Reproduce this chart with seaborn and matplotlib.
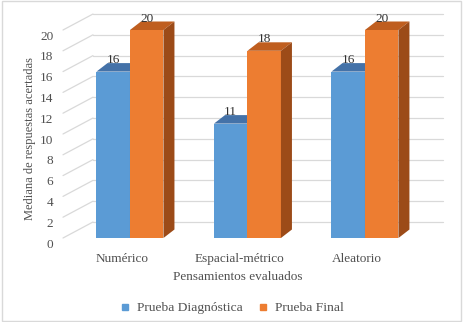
import numpy as np
import pandas as pd
import matplotlib
matplotlib.use("Agg")
import matplotlib.pyplot as plt
import matplotlib.transforms as mtransforms
from matplotlib.patches import Polygon, Rectangle
from matplotlib.lines import Line2D
import seaborn as sns

# datos
categorias = ["Numérico", "Espacial-métrico", "Aleatorio"]
series = ["Prueba Diagnóstica", "Prueba Final"]
diagnostica = [16, 11, 16]
final = [20, 18, 20]
yticks = [0, 2, 4, 6, 8, 10, 12, 14, 16, 18, 20]

frente = {"Prueba Diagnóstica": "#5B9BD5", "Prueba Final": "#ED7D31"}
tapa = {"Prueba Diagnóstica": "#4472A8", "Prueba Final": "#BF5E1F"}
lado = {"Prueba Diagnóstica": "#3D6796", "Prueba Final": "#9C4B18"}
texto = "#505050"
rejilla = "#D9D9D9"
fuente = ["Liberation Serif", "DejaVu Serif"]

df = pd.DataFrame({
    "Pensamiento": categorias * 2,
    "Prueba": [series[0]] * 3 + [series[1]] * 3,
    "Mediana": diagnostica + final,
})

sns.set_theme(style="white")
plt.rcParams["font.family"] = fuente
plt.rcParams["font.size"] = 9.5

W, H = 464, 322
fig = plt.figure(figsize=(W / 100, H / 100), dpi=100)
# plano frontal: x 63..413 px, y(0)=238 px, y(20)=30 px
ax = fig.add_axes([63 / W, (H - 238) / H, 350 / W, 208 / H])

sns.barplot(data=df, x="Pensamiento", y="Mediana", hue="Prueba",
            order=categorias, hue_order=series, palette=frente,
            width=0.57, gap=0, saturation=1, errorbar=None,
            legend=False, ax=ax)

xl = (-0.57, 2.409)
ax.set_xlim(*xl)
ax.set_ylim(0, 20)
kx = (xl[1] - xl[0]) / 350   # datos por pixel
ky = 20 / 208

# pared del fondo y pared lateral
gx, gy = 30 * kx, 16 * ky
for v in yticks:
    ax.plot([xl[0] + gx, xl[1] + gx], [v + gy, v + gy], color=rejilla,
            lw=0.9, zorder=0, clip_on=False)
    ax.plot([xl[0], xl[0] + gx], [v, v + gy], color=rejilla,
            lw=0.9, zorder=0, clip_on=False)

# caras superior y lateral de las barras (efecto 3D)
dx, dy = 11 * kx, 8.5 * ky
for i, (cont, s) in enumerate(zip(ax.containers, series)):
    z = 2 + 2 * i
    for bar in cont:
        bar.set_zorder(z)
        bar.set_edgecolor("none")
        x0, w, h = bar.get_x(), bar.get_width(), bar.get_height()
        x1 = x0 + w
        top = Polygon([(x0, h), (x1, h), (x1 + dx, h + dy), (x0 + dx, h + dy)],
                      closed=True, facecolor=tapa[s], edgecolor="none",
                      zorder=z + 0.5, clip_on=False)
        side = Polygon([(x1, 0), (x1, h), (x1 + dx, h + dy), (x1 + dx, dy)],
                       closed=True, facecolor=lado[s], edgecolor="none",
                       zorder=z + 0.5, clip_on=False)
        ax.add_patch(top)
        ax.add_patch(side)
        ax.annotate(f"{h:.0f}", (x0 + w / 2, h), xytext=(0, 6),
                    textcoords="offset points", ha="center", va="baseline",
                    color="#303030", fontsize=9.5, family=fuente,
                    zorder=10, annotation_clip=False)

sns.despine(ax=ax, left=True, bottom=True)
ax.set_facecolor("none")
ax.set_yticks(yticks)
ax.tick_params(axis="both", length=0, colors=texto, labelsize=9.5)
ax.tick_params(axis="y", pad=7)
ax.tick_params(axis="x", pad=11)
for lab in ax.get_yticklabels():
    lab.set_family(fuente)
    lab.set_transform(lab.get_transform() +
                      mtransforms.ScaledTranslation(0, -5 / 100, fig.dpi_scale_trans))
for lab in ax.get_xticklabels():
    lab.set_family(fuente)
    lab.set_transform(lab.get_transform() +
                      mtransforms.ScaledTranslation(-8 / 100, 0, fig.dpi_scale_trans))

ax.set_xlabel("Pensamientos evaluados", color=texto, fontsize=9.5,
              family=fuente, va="center")
ax.xaxis.set_label_coords(0.5, (238 - 277) / 208)
ax.set_ylabel("Mediana de respuestas acertadas", color=texto, fontsize=9,
              family=fuente, va="center")
ax.yaxis.set_label_coords((30 - 63) / 350, (238 - 139) / 208)

handles = [Line2D([], [], marker="s", linestyle="", markersize=4.5,
                  color=frente[s]) for s in series]
ax.legend(handles, series, loc="center", ncol=2, frameon=False,
          bbox_to_anchor=(232 / W, 1 - 308 / H), bbox_transform=fig.transFigure,
          handlelength=0.8, handletextpad=0.5, columnspacing=1.08,
          labelcolor=texto, prop={"family": fuente, "size": 9.7})

fig.patches.append(Rectangle((0.004, 0.004), 0.99, 0.992, transform=fig.transFigure,
                             fill=False, edgecolor=rejilla, lw=1))

fig.savefig("out.png", dpi=100)
